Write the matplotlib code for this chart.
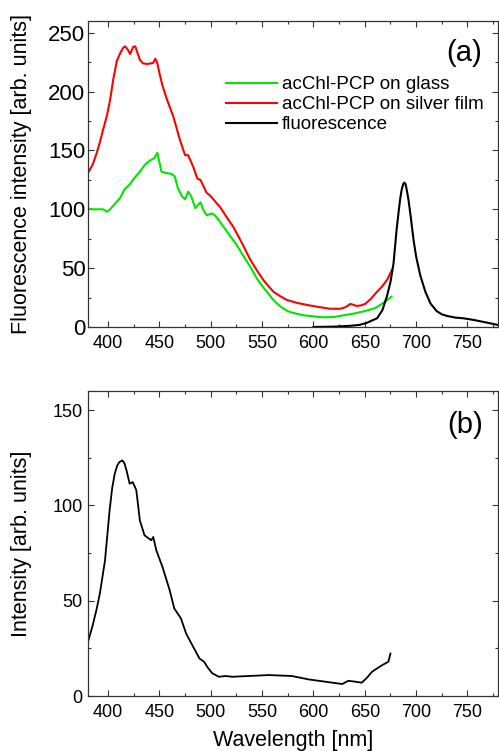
import matplotlib
matplotlib.use("Agg")
import matplotlib.pyplot as plt
from matplotlib.ticker import MultipleLocator

plt.rcParams["font.family"] = ["Liberation Sans", "DejaVu Sans"]

# (a) acChl-PCP on glass
glass_x = [380, 385, 390, 395, 399, 402, 407, 412, 416, 421, 426, 431, 436, 441, 445,
           448, 452, 456, 462, 465, 468, 472, 475, 478, 481, 485, 488, 490, 493, 496,
           501, 504, 509, 515, 520, 525, 530, 535, 540, 545, 550, 555, 560, 565, 570,
           575, 580, 590, 600, 610, 620, 630, 640, 650, 660, 668, 676]
glass_y = [101, 100, 100, 100, 98, 100, 105, 110, 117, 121, 127, 132, 138, 141.5, 143.5,
           148, 132, 131, 130, 128, 118, 111, 108.5, 115, 111, 101, 104, 106, 99, 95,
           96.5, 95, 89.5, 82, 76, 70, 63, 56, 49, 41, 35, 29.5, 24, 19.5, 16,
           13.5, 12, 10, 9, 8.2, 8.5, 10, 11.5, 13.5, 16, 20.4, 25.8]

# (a) acChl-PCP on silver film
silver_x = [380, 385, 389, 392, 395, 399, 402, 405, 408.5, 412, 414.5, 416.5, 419, 421.5, 424.5,
            426.5, 429, 431, 434, 438, 442, 444, 446, 448, 450.5, 453, 457.5, 463.5, 470, 475,
            478, 483, 487, 490, 496, 499, 504, 509, 515, 522, 530, 538, 545, 552, 561,
            567, 574, 584, 594, 605, 616, 626, 631, 636, 642, 646, 650.5, 656, 662, 667,
            672, 676.5]
silver_y = [130, 138, 148, 157, 167, 180, 193, 210, 226, 233, 237, 238.5, 236, 232, 238,
            238.5, 232, 227, 224, 223.5, 224, 224.5, 228, 224, 214, 205, 193, 179, 159, 146,
            146, 136, 126, 125, 114, 112, 107, 102, 94, 85, 72, 58, 48, 39, 30,
            26.5, 23, 20.5, 18.7, 17, 15.5, 15.5, 16.7, 19.6, 17.9, 18.3, 19.6, 24, 30, 34.5,
            40.5, 48.5]

# (a) fluorescence
fluo_x = [600, 620, 636, 645, 652, 657, 662, 667, 671.5, 675, 678, 681, 683, 684.5, 686,
          687.5, 688.5, 689.7, 691, 692.6, 695, 697.5, 700, 704, 709, 714, 720, 725, 730, 738,
          746, 756, 769, 780]
fluo_y = [0, 0.3, 1, 1.8, 3.5, 5.5, 7.4, 14, 25.8, 38, 54, 82.5, 98, 109, 117,
          121.5, 122.7, 121.5, 116, 108, 92, 74, 60, 44, 30, 20, 13.5, 10.8, 9.4, 8,
          7.4, 6, 3.7, 1.7]

# (b) intensity
b_x = [380, 385, 389, 392, 397, 401.5, 404, 406.5, 409, 411, 414, 416, 418, 421, 424,
       427.5, 431, 435.5, 442, 444, 447, 453, 460, 464.5, 471, 476, 482, 489, 493.5, 497,
       501.5, 508, 514.5, 521, 537, 556.5, 579, 595.5, 611.7, 628, 634, 641, 647, 652, 657,
       662, 667, 673, 675]
b_y = [27.6, 37, 45.9, 53.7, 71, 97.4, 109, 116.6, 121, 122.7, 123.6, 122, 118.3, 111.4, 112.2,
       108, 92, 84.3, 81.7, 83.4, 76.4, 67.7, 55.5, 45.9, 40.7, 32.8, 26.7, 19.7, 18, 15,
       11.9, 10.1, 10.5, 10.1, 10.5, 11, 10.5, 8.7, 7.5, 6.3, 8, 7.5, 7, 9.5, 12.7,
       14.5, 16.2, 18, 22.3]

xticks = [400, 450, 500, 550, 600, 650, 700, 750]

fig = plt.figure(figsize=(4.99, 7.51), dpi=100)
ax1 = fig.add_axes([0.1754, 0.5646, 0.8231, 0.4074])
ax2 = fig.add_axes([0.1754, 0.0732, 0.8231, 0.4062])

ax1.plot(glass_x, glass_y, color="#00e600", lw=1.5, label="acChl-PCP on glass")
ax1.plot(silver_x, silver_y, color="#ff0000", lw=1.5, label="acChl-PCP on silver film")
ax1.plot(fluo_x, fluo_y, color="black", lw=1.5, label="fluorescence")
ax2.plot(b_x, b_y, color="black", lw=1.3)

ax1.set_ylim(0, 260)
ax2.set_ylim(0, 160)
ax1.set_yticks([0, 50, 100, 150, 200, 250])
ax2.set_yticks([0, 50, 100, 150])

for ax in (ax1, ax2):
    ax.set_xlim(380, 780)
    ax.set_xticks(xticks)
    ax.xaxis.set_minor_locator(MultipleLocator(25))
    ax.yaxis.set_minor_locator(MultipleLocator(25))
    ax.tick_params(which="both", direction="in", top=True, right=True,
                   width=0.8, color="#333333")
    ax.tick_params(which="major", length=4.5)
    ax.tick_params(which="minor", length=2.5)
    ax.tick_params(axis="x", labelsize=13, pad=6)
    for s in ax.spines.values():
        s.set_color("#333333")
        s.set_linewidth(0.9)

ax1.tick_params(axis="y", labelsize=16, pad=1.5)
ax2.tick_params(axis="y", labelsize=13, pad=3.5)

fig.text(22 / 499, 0.768, "Fluorescence intensity [arb. units]", rotation=90,
         ha="center", va="center", fontsize=15.5)
fig.text(22 / 499, 0.276, "Intensity [arb. units]", rotation=90,
         ha="center", va="center", fontsize=15.5)
ax2.set_xlabel("Wavelength [nm]", fontsize=15.5, labelpad=6)

ax1.text(464 / 499, 1 - 53 / 751, "(a)", transform=fig.transFigure,
         ha="center", va="center", fontsize=21)
ax2.text(465 / 499, 1 - 425 / 751, "(b)", transform=fig.transFigure,
         ha="center", va="center", fontsize=21)

ax1.legend(loc="upper left", bbox_to_anchor=(0.337, 0.82), frameon=False,
           fontsize=13.5, handlelength=2.7, handletextpad=0.3,
           labelspacing=0.15, borderpad=0, borderaxespad=0)

fig.savefig("out.png", dpi=100)
